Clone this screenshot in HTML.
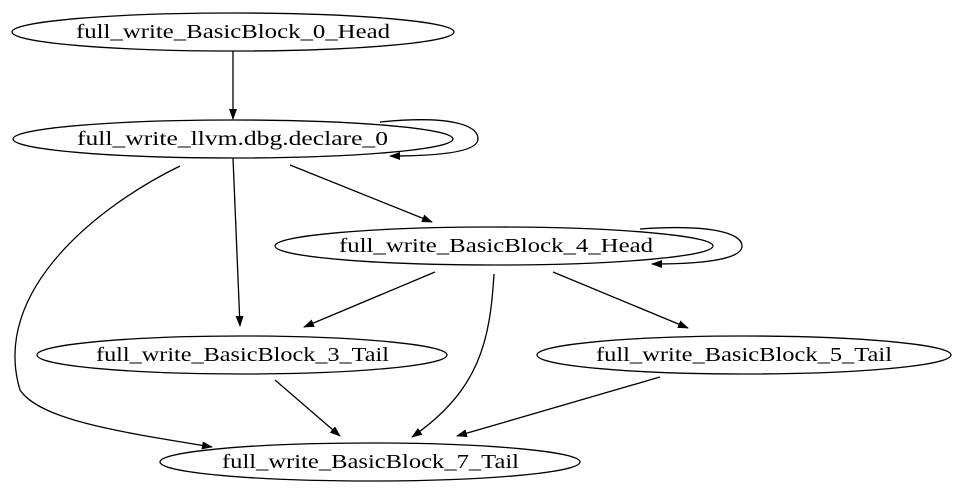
<!DOCTYPE html>
<html><head><style>
html,body{margin:0;padding:0;background:#fff;width:960px;height:494px;overflow:hidden}
text{font-family:"Liberation Serif",serif;font-size:19.5px;fill:#000}
</style></head><body>
<svg width="960" height="494" viewBox="0 0 960 494" xmlns="http://www.w3.org/2000/svg">
<defs><marker id="a" markerWidth="11" markerHeight="8" refX="10" refY="4" orient="auto" markerUnits="userSpaceOnUse"><path d="M0,0 L11,4 L0,8 z" fill="#000"/></marker></defs>
<g fill="none" stroke="#000" stroke-width="1.3">
<ellipse cx="233" cy="32" rx="221" ry="19"/>
<ellipse cx="233" cy="139" rx="220" ry="19"/>
<ellipse cx="494" cy="246" rx="219" ry="19"/>
<ellipse cx="242" cy="355" rx="205" ry="19"/>
<ellipse cx="744" cy="355" rx="207" ry="19"/>
<ellipse cx="370" cy="462" rx="210" ry="19"/>
<path d="M233,51 L233,119" marker-end="url(#a)"/>
<path d="M380,122 C450,115 478,125 478,139 C478,150 450,156 390,156" marker-end="url(#a)"/>
<path d="M180,166 C100,205 -10,290 20,390 C40,420 120,432 212,447" marker-end="url(#a)"/>
<path d="M233,158 L240,326" marker-end="url(#a)"/>
<path d="M290,165 L432,222" marker-end="url(#a)"/>
<path d="M640,229 C710,224 742,233 742,246 C742,258 710,264 652,264" marker-end="url(#a)"/>
<path d="M435,272 L304,327" marker-end="url(#a)"/>
<path d="M494,274 C490,340 480,390 412,437" marker-end="url(#a)"/>
<path d="M553,272 L688,328" marker-end="url(#a)"/>
<path d="M275,380 L340,436" marker-end="url(#a)"/>
<path d="M660,377 L457,436" marker-end="url(#a)"/>
</g>
<g>
<text x="76" y="38" textLength="314" lengthAdjust="spacingAndGlyphs">full_write_BasicBlock_0_Head</text>
<text x="77" y="145" textLength="311" lengthAdjust="spacingAndGlyphs">full_write_llvm.dbg.declare_0</text>
<text x="339" y="252" textLength="314" lengthAdjust="spacingAndGlyphs">full_write_BasicBlock_4_Head</text>
<text x="96" y="361" textLength="293" lengthAdjust="spacingAndGlyphs">full_write_BasicBlock_3_Tail</text>
<text x="596" y="361" textLength="296" lengthAdjust="spacingAndGlyphs">full_write_BasicBlock_5_Tail</text>
<text x="222" y="468" textLength="297" lengthAdjust="spacingAndGlyphs">full_write_BasicBlock_7_Tail</text>
</g>
</svg>
</body></html>
